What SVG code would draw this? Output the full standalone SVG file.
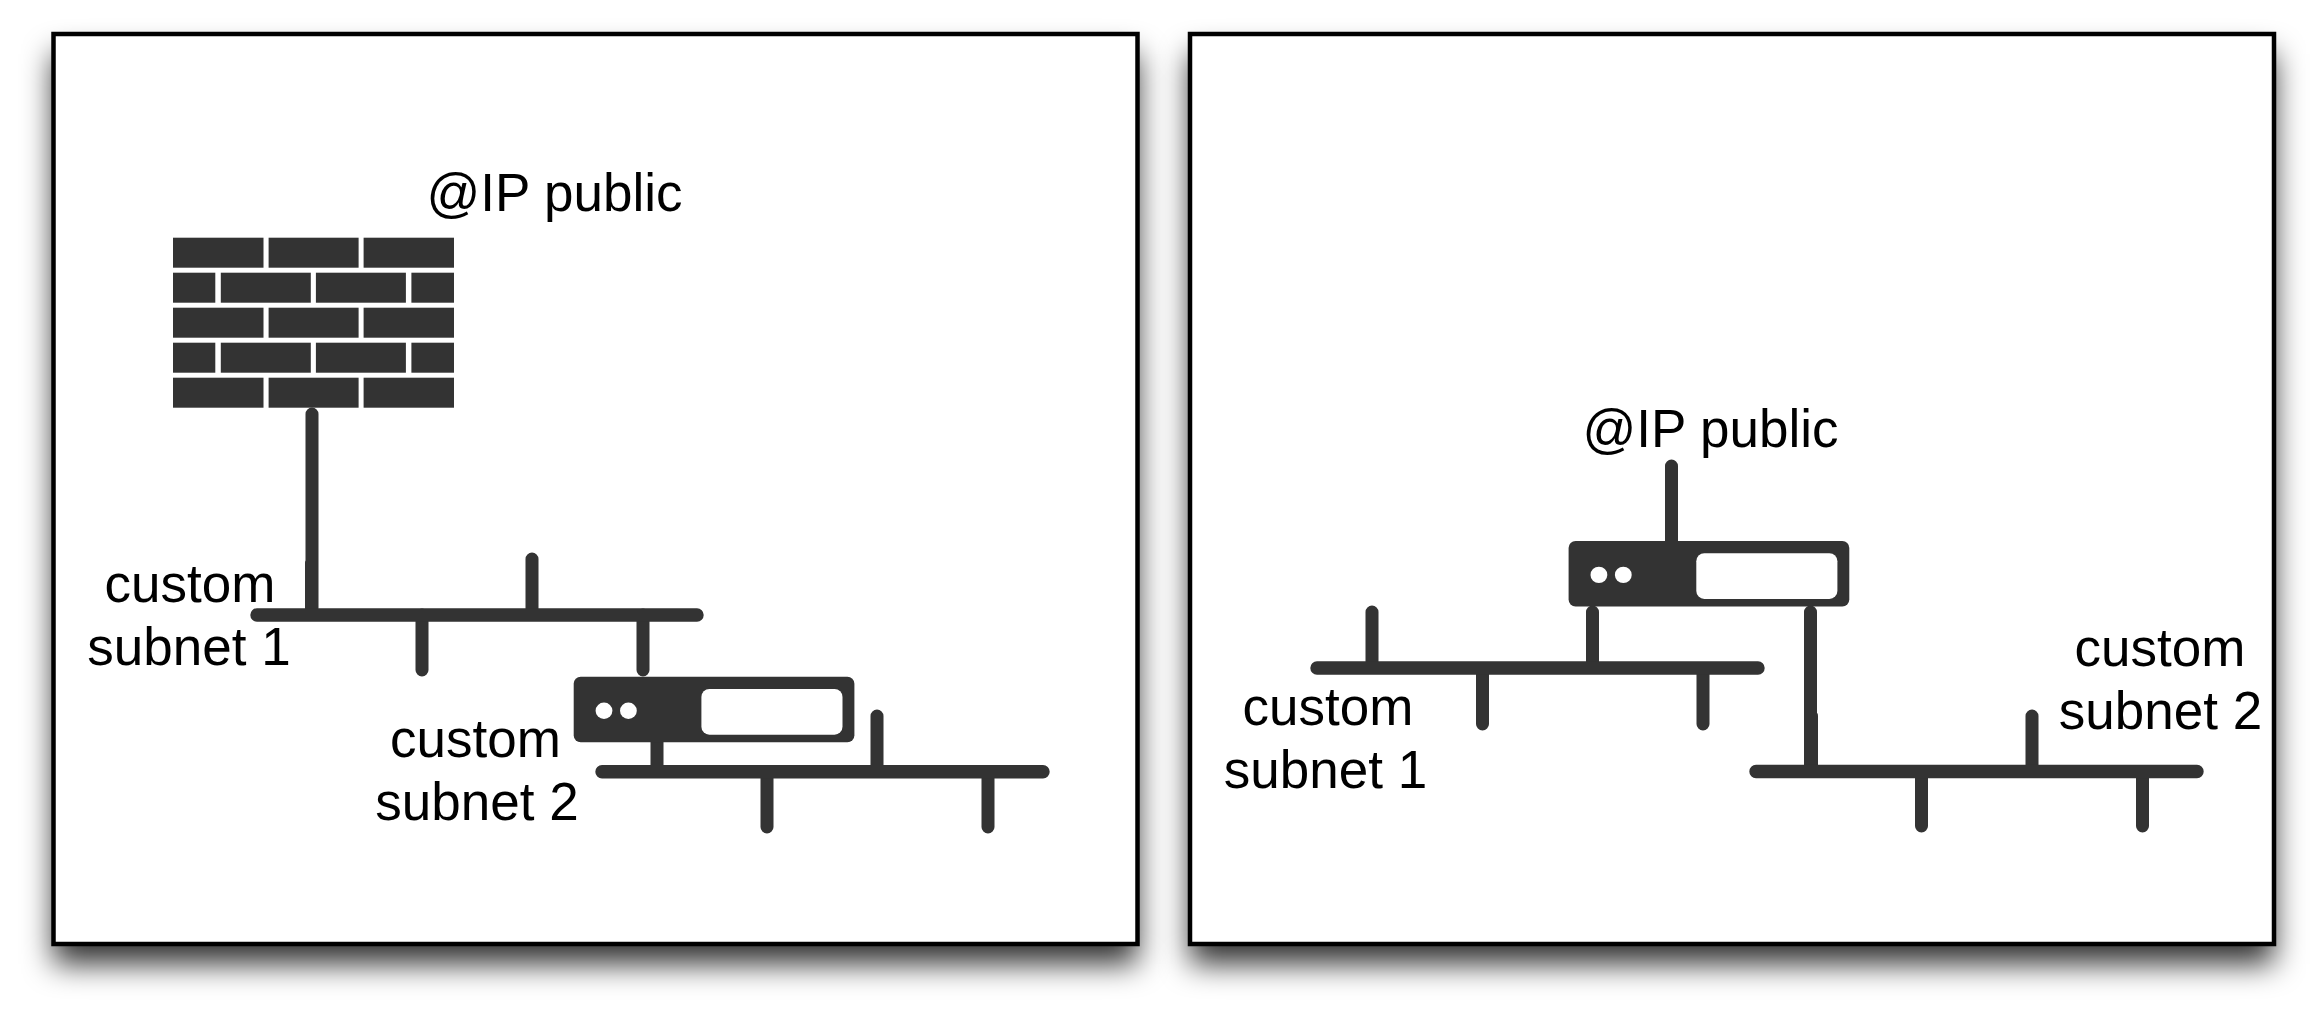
<svg xmlns="http://www.w3.org/2000/svg" width="2320" height="1009" viewBox="0 0 2320 1009">
<style>
.frame{fill:#fff;stroke:#000;stroke-width:4.500}
.shadow{fill:#000;fill-opacity:.8;filter:url(#blur)}
.brick{fill:#333}
.body{fill:#333}
.hole{fill:#fff}
.bar{fill:none;stroke:#333;stroke-width:13.400;stroke-linecap:round}
.wire{fill:none;stroke:#333;stroke-width:13;stroke-linecap:round}
.lbl{font-family:"Liberation Sans",Arial,sans-serif;font-size:53px;fill:#000;text-anchor:middle}
</style>
<defs>
<filter id="blur" x="-10%" y="-10%" width="120%" height="125%"><feGaussianBlur stdDeviation="15"/></filter>
<g id="router">
<rect class="body" width="280.700" height="65.600" rx="7"/>
<rect class="hole" x="127.700" y="12.300" width="141.100" height="45.700" rx="8"/>
<ellipse class="hole" cx="30.300" cy="34" rx="8.400" ry="8.200"/>
<ellipse class="hole" cx="54.700" cy="34" rx="8.400" ry="8.200"/>
</g>
</defs>
<rect width="2320" height="1009" fill="#fff"/>
<g id="panel-left">
<rect class="shadow" x="53.500" y="54" width="1084" height="910"/>
<rect class="frame" x="53.500" y="34" width="1084" height="910"/>
</g>
<g id="panel-right">
<rect class="shadow" x="1190" y="54" width="1084" height="910"/>
<rect class="frame" x="1190" y="34" width="1084" height="910"/>
</g>
<g id="connectors">
<path class="wire" d="M312 414V608M311.500 563V610M532 559V612M422 615V670M643 615V670"/>
<path class="wire" d="M657 740V770M877 716V770M767 775V827M988 775V827"/>
<path class="bar" d="M257 615H697M602 771.700H1043"/>
<path class="wire" d="M1671.500 466V541M1372 612V665M1592.500 612V665M1482.500 670V724M1703 670V724"/>
<path class="wire" d="M1810.500 612V768M1811.500 716V768M2032 716V770M1921.500 775V826M2142.500 775V826"/>
<path class="bar" d="M1317 668H1758M1756 771.500H2197"/>
</g>
<g id="firewall">
<rect class="brick" x="173" y="237.700" width="90.500" height="30"/><rect class="brick" x="268.600" y="237.700" width="90" height="30"/><rect class="brick" x="363.600" y="237.700" width="90.400" height="30"/>
<rect class="brick" x="173" y="272.700" width="42.300" height="30"/><rect class="brick" x="220.800" y="272.700" width="90" height="30"/><rect class="brick" x="315.900" y="272.700" width="90" height="30"/><rect class="brick" x="411.400" y="272.700" width="42.600" height="30"/>
<rect class="brick" x="173" y="307.700" width="90.500" height="30"/><rect class="brick" x="268.600" y="307.700" width="90" height="30"/><rect class="brick" x="363.600" y="307.700" width="90.400" height="30"/>
<rect class="brick" x="173" y="342.700" width="42.300" height="30"/><rect class="brick" x="220.800" y="342.700" width="90" height="30"/><rect class="brick" x="315.900" y="342.700" width="90" height="30"/><rect class="brick" x="411.400" y="342.700" width="42.600" height="30"/>
<rect class="brick" x="173" y="377.700" width="90.500" height="30"/><rect class="brick" x="268.600" y="377.700" width="90" height="30"/><rect class="brick" x="363.600" y="377.700" width="90.400" height="30"/>
</g>
<g id="router-left"><use href="#router" x="573.700" y="676.700"/></g>
<g id="router-right"><use href="#router" x="1568.600" y="540.900"/></g>
<g id="labels">
<text class="lbl" x="554.500" y="210.700">@IP public</text>
<text class="lbl" x="190" y="602.300">custom</text>
<text class="lbl" x="189" y="664.500">subnet 1</text>
<text class="lbl" x="475.500" y="757">custom</text>
<text class="lbl" x="477" y="820">subnet 2</text>
<text class="lbl" x="1710.500" y="447.300">@IP public</text>
<text class="lbl" x="1328" y="725">custom</text>
<text class="lbl" x="1325.500" y="788">subnet 1</text>
<text class="lbl" x="2160" y="666">custom</text>
<text class="lbl" x="2160.500" y="729">subnet 2</text>
</g>
</svg>
